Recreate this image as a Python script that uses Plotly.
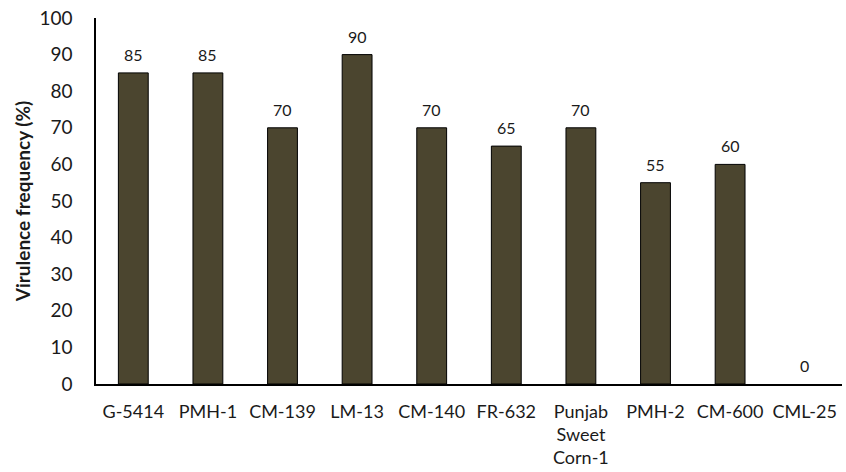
import plotly.graph_objects as go

# Virulence frequency per maize genotype
genotypes = ["G-5414", "PMH-1", "CM-139", "LM-13", "CM-140", "FR-632",
             "Punjab<br>Sweet<br>Corn-1", "PMH-2", "CM-600", "CML-25"]
virulence = [85, 85, 70, 90, 70, 65, 70, 55, 60, 0]
y_ticks = [0, 10, 20, 30, 40, 50, 60, 70, 80, 90, 100]

FONT = "Lato, Open Sans, sans-serif"

fig = go.Figure(
    go.Bar(
        x=genotypes,
        y=virulence,
        marker=dict(
            color="#4b452f",
            # a zero-height bar gets no outline
            line=dict(color="black", width=[0 if v == 0 else 1 for v in virulence]),
        ),
        width=0.4,
        cliponaxis=False,
    )
)

# value labels sitting just above each bar
for g, v in zip(genotypes, virulence):
    fig.add_annotation(
        x=g, y=v, text=str(v), showarrow=False,
        yanchor="bottom", yshift=7,
        font=dict(family=FONT, size=16, color="#1a1a1a"),
    )

fig.update_layout(
    width=846,
    height=472,
    margin=dict(l=96, r=4, t=18, b=86),
    plot_bgcolor="white",
    paper_bgcolor="white",
    showlegend=False,
    font=dict(family=FONT, size=18, color="#1a1a1a"),
)

fig.update_xaxes(
    showline=True,
    linecolor="black",
    linewidth=2,
    ticks="",
    ticklabelstandoff=10,
    tickfont=dict(size=18),
)

fig.update_yaxes(
    range=[0, 100],
    tickvals=y_ticks,
    showgrid=False,
    showline=True,
    linecolor="black",
    linewidth=1.5,
    zeroline=False,
    ticks="",
    ticklabelstandoff=18,
    tickfont=dict(size=19),
    title=dict(text="<b>Virulence frequency (%)</b>", font=dict(size=19), standoff=4),
)

fig.write_html("out.html")
